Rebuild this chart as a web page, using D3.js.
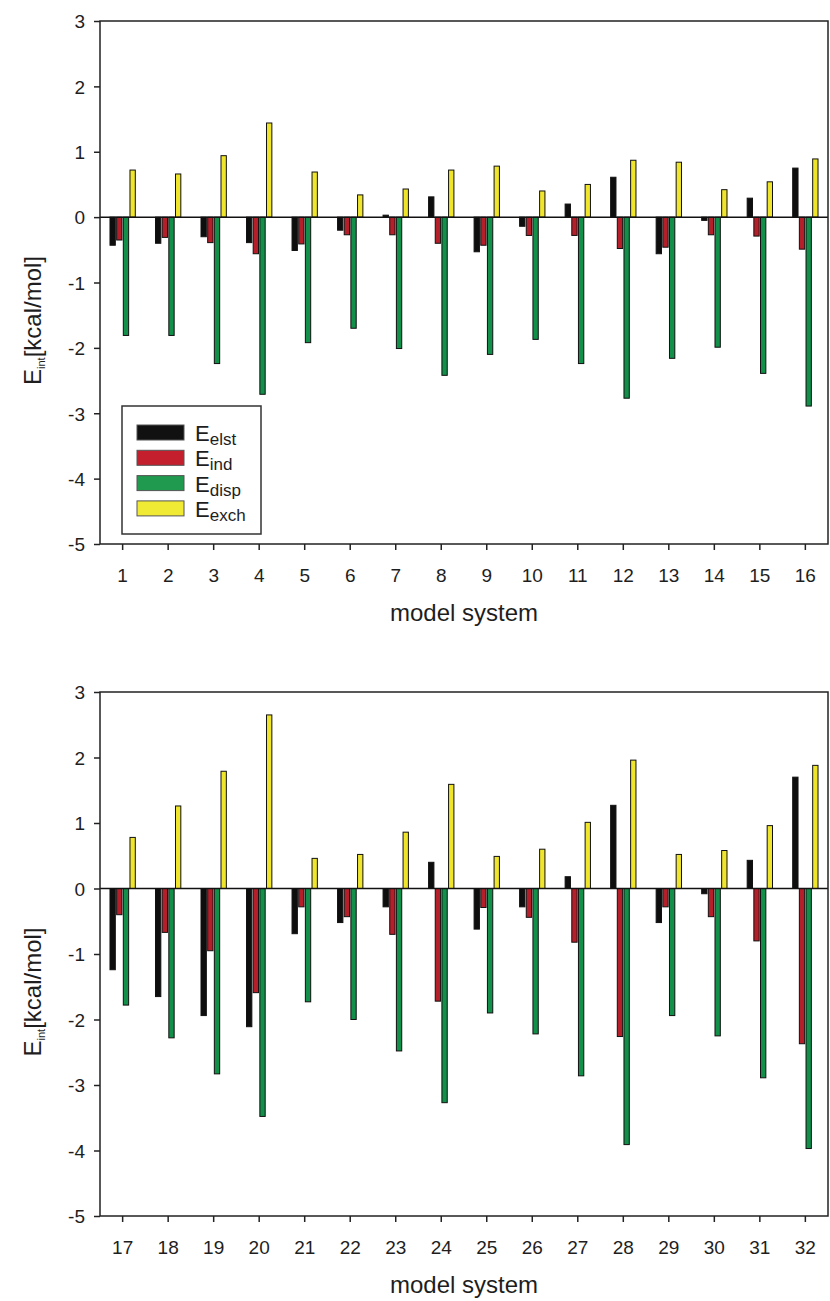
<!DOCTYPE html>
<html lang="en">
<head>
    <meta charset="UTF-8">
    <title>Interaction energy components</title>
    <script src="https://cdnjs.cloudflare.com/ajax/libs/d3/7.8.5/d3.min.js"></script>
    <style>
        body {
            margin: 0;
            background: #fff;
        }
        svg {
            display: block;
        }
        text {
            font-family: Arial, "Liberation Sans", sans-serif;
            fill: #1e1e1e;
        }
    </style>
</head>
<body>
    <svg width="830" height="1301"></svg>

    <script>
        // energy terms, kcal/mol
        const seriesKeys = ["elst", "ind", "disp", "exch"];
        const seriesColors = ["#0e0e0e", "#b51f2a", "#128f49", "#efe52c"];
        const legendColors = ["#111111", "#c41f2c", "#1f9a4f", "#f1ea34"];
        const yTickValues = [-5, -4, -3, -2, -1, 0, 1, 2, 3];

        const systemsTop = ["1", "2", "3", "4", "5", "6", "7", "8", "9", "10", "11", "12", "13", "14", "15", "16"];
        const elstTop = [-0.43, -0.40, -0.30, -0.39, -0.51, -0.20, 0.03, 0.31, -0.53, -0.14, 0.20, 0.61, -0.56, -0.05, 0.29, 0.75];
        const indTop = [-0.35, -0.31, -0.39, -0.56, -0.41, -0.27, -0.27, -0.40, -0.43, -0.28, -0.28, -0.48, -0.46, -0.27, -0.29, -0.49];
        const dispTop = [-1.81, -1.81, -2.24, -2.71, -1.92, -1.70, -2.01, -2.42, -2.10, -1.87, -2.24, -2.77, -2.16, -1.99, -2.39, -2.89];
        const exchTop = [0.72, 0.66, 0.94, 1.44, 0.69, 0.34, 0.43, 0.72, 0.78, 0.40, 0.50, 0.87, 0.84, 0.42, 0.54, 0.89];

        const systemsBottom = ["17", "18", "19", "20", "21", "22", "23", "24", "25", "26", "27", "28", "29", "30", "31", "32"];
        const elstBottom = [-1.24, -1.65, -1.94, -2.11, -0.69, -0.52, -0.28, 0.40, -0.62, -0.28, 0.18, 1.27, -0.52, -0.08, 0.43, 1.70];
        const indBottom = [-0.40, -0.67, -0.95, -1.59, -0.28, -0.43, -0.70, -1.72, -0.29, -0.44, -0.82, -2.26, -0.28, -0.43, -0.80, -2.37];
        const dispBottom = [-1.78, -2.28, -2.83, -3.48, -1.73, -2.00, -2.48, -3.27, -1.90, -2.22, -2.86, -3.91, -1.94, -2.25, -2.89, -3.97];
        const exchBottom = [0.78, 1.26, 1.79, 2.65, 0.46, 0.52, 0.86, 1.59, 0.49, 0.60, 1.01, 1.96, 0.52, 0.58, 0.96, 1.88];

        const svg = d3.select("svg");
        const left = 100, right = 828;

        function drawPanel(systems, values, top, bottom, withLegend) {
            const rows = systems.map((s, i) => ({
                system: s,
                vals: seriesKeys.map((k, j) => ({ key: k, value: values[j][i] }))
            }));

            const x0 = d3.scaleBand()
                .domain(systems)
                .range([left, right])
                .paddingInner(0.385)
                .paddingOuter(0.19);

            const x1 = d3.scaleBand()
                .domain(seriesKeys)
                .range([0, x0.bandwidth()])
                .padding(0.2);

            const y = d3.scaleLinear()
                .domain([-5, 3])
                .range([bottom, top]);

            const color = d3.scaleOrdinal().domain(seriesKeys).range(seriesColors);

            const g = svg.append("g");

            // bars
            const groups = g.selectAll(".grp")
                .data(rows)
                .enter()
                .append("g")
                .attr("transform", d => `translate(${x0(d.system)},0)`);

            groups.selectAll("rect")
                .data(d => d.vals)
                .enter()
                .append("rect")
                .attr("x", d => x1(d.key))
                .attr("width", x1.bandwidth())
                .attr("y", d => y(Math.max(0, d.value)))
                .attr("height", d => Math.abs(y(d.value) - y(0)))
                .attr("fill", d => color(d.key))
                .attr("stroke", "#111")
                .attr("stroke-width", 1);

            // zero line
            g.append("line")
                .attr("x1", left).attr("x2", right)
                .attr("y1", y(0)).attr("y2", y(0))
                .attr("stroke", "#111")
                .attr("stroke-width", 1.5);

            // frame
            g.append("rect")
                .attr("x", left).attr("y", top)
                .attr("width", right - left).attr("height", bottom - top)
                .attr("fill", "none")
                .attr("stroke", "#222")
                .attr("stroke-width", 1.5);

            const yAxis = g.append("g")
                .attr("transform", `translate(${left},0)`)
                .call(d3.axisLeft(y).tickValues(yTickValues).tickSize(6).tickSizeOuter(0).tickFormat(d => String(d)));

            const xAxis = g.append("g")
                .attr("transform", `translate(0,${bottom})`)
                .call(d3.axisBottom(x0).tickSize(6).tickSizeOuter(0));

            [yAxis, xAxis].forEach(a => {
                a.select(".domain").remove();
                a.selectAll("line").attr("stroke", "#222").attr("stroke-width", 1.5);
                a.selectAll("text").attr("font-size", 19).attr("fill", "#1e1e1e");
            });
            yAxis.selectAll("text").attr("x", -15).attr("dy", "0.36em");
            xAxis.selectAll("text").attr("y", 38).attr("dy", 0);

            // axis titles
            svg.append("text")
                .attr("x", (left + right) / 2)
                .attr("y", bottom + 77)
                .attr("text-anchor", "middle")
                .attr("font-size", 24)
                .text("model system");

            const yl = svg.append("text")
                .attr("transform", `translate(41,${(top + bottom) / 2 + 38}) rotate(-90)`)
                .attr("text-anchor", "middle")
                .attr("font-size", 24);
            yl.append("tspan").text("E");
            yl.append("tspan").attr("font-size", 11).attr("dy", 4).text("int");
            yl.append("tspan").attr("dy", -4).text("[kcal/mol]");

            if (withLegend) {
                const lg = svg.append("g");
                lg.append("rect")
                    .attr("x", 122).attr("y", 406)
                    .attr("width", 139).attr("height", 128)
                    .attr("fill", "#fff")
                    .attr("stroke", "#333")
                    .attr("stroke-width", 1.5);

                const items = lg.selectAll(".item")
                    .data(seriesKeys)
                    .enter()
                    .append("g")
                    .attr("transform", (d, i) => `translate(137,${425 + i * 25.3})`);

                items.append("rect")
                    .attr("width", 47).attr("height", 15)
                    .attr("fill", (d, i) => legendColors[i])
                    .attr("stroke", "#555")
                    .attr("stroke-width", 1);

                const t = items.append("text")
                    .attr("x", 58).attr("y", 16)
                    .attr("font-size", 22);
                t.append("tspan").text("E");
                t.append("tspan").attr("font-size", 17).attr("dy", 4).text(d => d);
            }
        }

        drawPanel(systemsTop, [elstTop, indTop, dispTop, exchTop], 21, 544, true);
        drawPanel(systemsBottom, [elstBottom, indBottom, dispBottom, exchBottom], 692, 1216, false);
    </script>
</body>
</html>
